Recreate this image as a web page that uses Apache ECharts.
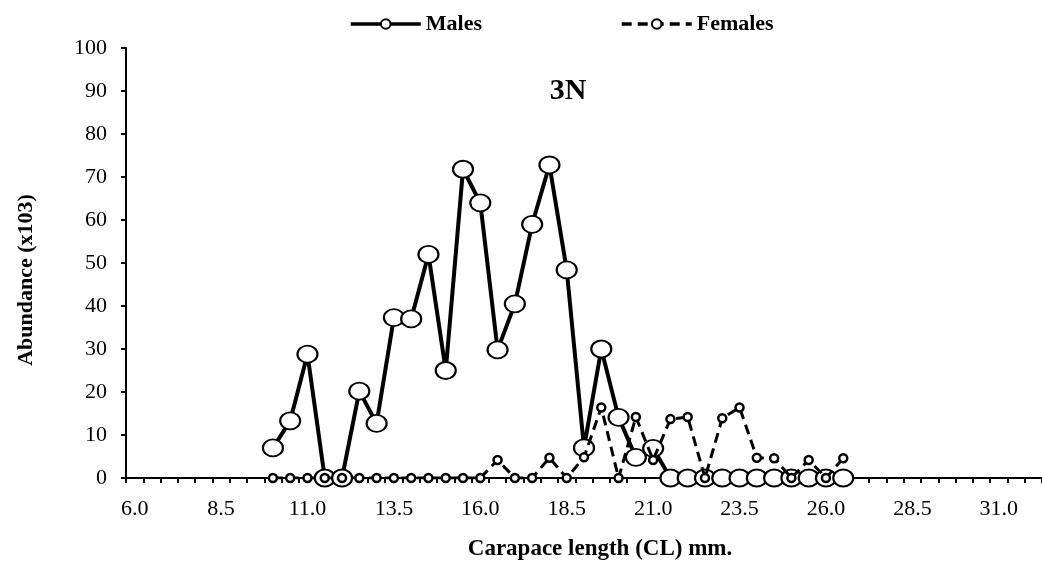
<!DOCTYPE html>
<html>
<head>
<meta charset="utf-8">
<title>3N</title>
<script src="https://cdn.jsdelivr.net/npm/echarts@6/dist/echarts.min.js"></script>
<style>
  html, body { margin: 0; padding: 0; background: #fff; }
  #chart { width: 1042px; height: 566px; }
</style>
</head>
<body>
<div id="chart"></div>
<script>
// carapace length classes (mm)
const lengths = [
  '6.0', '6.5', '7.0', '7.5', '8.0', '8.5', '9.0', '9.5',
  '10.0', '10.5', '11.0', '11.5', '12.0', '12.5', '13.0', '13.5',
  '14.0', '14.5', '15.0', '15.5', '16.0', '16.5', '17.0', '17.5',
  '18.0', '18.5', '19.0', '19.5', '20.0', '20.5', '21.0', '21.5',
  '22.0', '22.5', '23.0', '23.5', '24.0', '24.5', '25.0', '25.5',
  '26.0', '26.5', '27.0', '27.5', '28.0', '28.5', '29.0', '29.5',
  '30.0', '30.5', '31.0', '31.5', '32.0'
]
// abundance (x103), '-' = no sample
const males = [
  '-', '-', '-', '-', '-', '-', '-', '-',
  7, 13.3, 28.8, 0, 0, 20.2, 12.7, 37.3,
  37, 52, 25, 71.8, 64, 29.8, 40.5, 59,
  72.8, 48.4, 7, 30, 14.1, 4.8, 6.9, 0,
  0, 0, 0, 0, 0, 0, 0, 0,
  0, 0, '-', '-', '-', '-', '-', '-',
  '-', '-', '-', '-', '-'
]
const females = [
  '-', '-', '-', '-', '-', '-', '-', '-',
  0, 0, 0, 0, 0, 0, 0, 0,
  0, 0, 0, 0, 0, 4.2, 0, 0,
  4.7, 0, 4.8, 16.4, 0, 14.2, 4.2, 13.7,
  14.2, 0, 13.9, 16.4, 4.7, 4.6, 0, 4.2,
  0, 4.6, '-', '-', '-', '-', '-', '-',
  '-', '-', '-', '-', '-'
]
const yTicks = { min: 0, max: 100, step: 10 }

const serif = '"Liberation Serif", "Times New Roman", serif'
const chart = echarts.init(document.getElementById('chart'))

const option = {
  backgroundColor: '#fff',
  animation: false,
  textStyle: { fontFamily: serif, color: '#000' },
  title: {
    text: '3N',
    left: 563,
    top: 71,
    textAlign: 'center',
    textStyle: { fontFamily: serif, fontSize: 30, fontWeight: 'bold', color: '#000' }
  },
  legend: {
    left: 344,
    top: 8,
    itemWidth: 70,
    itemHeight: 12,
    itemGap: 138,
    lineStyle: { width: 3.5 },
    textStyle: { fontFamily: serif, fontSize: 22, fontWeight: 'bold', color: '#000' },
    data: ['Males', 'Females']
  },
  grid: { left: 126, right: -3, top: 48, bottom: 88 },
  xAxis: {
    type: 'category',
    data: lengths,
    boundaryGap: true,
    name: 'Carapace length (CL) mm.',
    nameLocation: 'middle',
    nameGap: 60,
    nameTextStyle: {
      fontFamily: serif, fontSize: 23, fontWeight: 'bold', color: '#000',
      padding: [0, 0, 0, 32]
    },
    axisLine: { lineStyle: { color: '#000', width: 2 } },
    axisTick: { show: true, interval: 0, length: 5, lineStyle: { color: '#000', width: 2 } },
    axisLabel: { interval: 4, margin: 20, fontFamily: serif, fontSize: 22, color: '#000' },
    splitLine: { show: false }
  },
  yAxis: {
    type: 'value',
    min: yTicks.min,
    max: yTicks.max,
    interval: yTicks.step,
    name: 'Abundance (x103)',
    nameLocation: 'middle',
    nameRotate: 90,
    nameGap: 89,
    nameTextStyle: {
      fontFamily: serif, fontSize: 22, fontWeight: 'bold', color: '#000',
      padding: [0, 34, 0, 0]
    },
    axisLine: { show: true, lineStyle: { color: '#000', width: 2 } },
    axisTick: { show: true, length: 5, lineStyle: { color: '#000', width: 2 } },
    axisLabel: { margin: 19, fontFamily: serif, fontSize: 22, color: '#000' },
    splitLine: { show: false }
  },
  series: [
    {
      name: 'Males',
      type: 'line',
      data: males,
      symbol: 'circle',
      symbolSize: [20, 17],
      showAllSymbol: true,
      lineStyle: { color: '#000', width: 4 },
      itemStyle: { color: '#fff', borderColor: '#000', borderWidth: 2 },
      emphasis: { disabled: true },
      z: 2
    },
    {
      name: 'Females',
      type: 'line',
      data: females,
      symbol: 'circle',
      symbolSize: 8,
      showAllSymbol: true,
      lineStyle: { color: '#000', width: 3, type: [10, 6] },
      itemStyle: { color: '#fff', borderColor: '#000', borderWidth: 2.5 },
      emphasis: { disabled: true },
      z: 3
    }
  ]
}

chart.setOption(option)
</script>
</body>
</html>
